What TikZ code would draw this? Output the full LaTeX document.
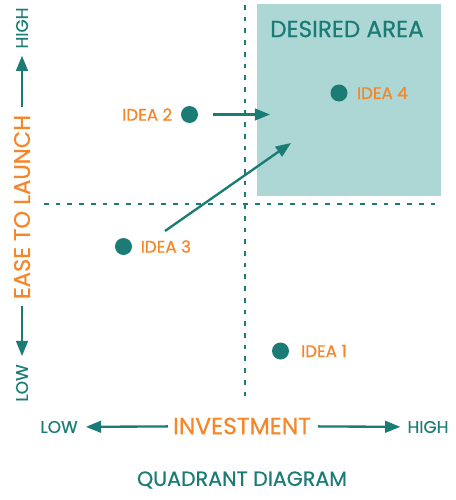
\documentclass[tikz,border=0pt]{standalone}
\usepackage{fontspec}
\setmainfont[FakeBold=0.6]{Poppins}
\usepackage{xcolor}
\usepackage{tikz}
\usetikzlibrary{calc,arrows,arrows.meta,positioning}
\definecolor{quadteal}{HTML}{1B7B75}
\definecolor{quadorange}{HTML}{F5862A}
\definecolor{quadfill}{HTML}{ACD7D5}
\tikzset{
  dot/.style = {circle, fill=quadteal, inner sep=0pt, minimum size=0.51cm},
  idea/.style = {text=quadorange, inner sep=0pt, font=\fontsize{14.3}{14.3}\selectfont},
  axisname/.style = {text=quadorange, inner sep=0pt, font=\fontsize{20}{20}\selectfont},
  scalelabel/.style = {text=quadteal, inner sep=0pt, font=\fontsize{14.5}{14.5}\selectfont},
  areatitle/.style = {text=quadteal, inner sep=0pt, font=\fontsize{19.8}{19.8}\selectfont},
  dotline/.style = {quadteal, line width=2.4pt, dash pattern=on 4pt off 6pt},
  pointer/.style = {quadteal, line width=2pt, -{Triangle[length=13pt, width=10pt]}},
}

\begin{document}
\begin{tikzpicture}[x=0.03cm, y=-0.03cm]
  \useasboundingbox (0,0) rectangle (456,500);

  \fill[quadfill] (257,4) rectangle (441,196);
  \node[areatitle] (desired) at (347,29) {DESIRED AREA};

  \draw[dotline] (44,204) -- (440,204);
  \draw[dotline] (245,5) -- (245,397);

  \node[dot] (idea1) at (280.5,351) {};
  \node[idea, right=0.35cm of idea1] (idea1 label) {IDEA 1};
  \node[dot] (idea2) at (189.5,114.5) {};
  \node[idea, left=0.25cm of idea2] (idea2 label) {IDEA 2};
  \node[dot] (idea3) at (123.5,246.5) {};
  \node[idea, right=0.25cm of idea3] (idea3 label) {IDEA 3};
  \node[dot] (idea4) at (339,93) {};
  \node[idea, right=0.27cm of idea4] (idea4 label) {IDEA 4};

  \coordinate (goal2) at (270,114.5);
  \coordinate (start3) at (165,231);
  \coordinate (goal3) at (291,143);
  \draw[pointer, shorten <=0.45cm] (idea2) -- (goal2);
  \draw[pointer] (start3) -- (goal3);

  \node[axisname] (invest) at (242,426) {INVESTMENT};
  \node[scalelabel] (low x) at (59,427) {LOW};
  \node[scalelabel] (high x) at (428,427) {HIGH};
  \draw[pointer, shorten <=0.15cm, shorten >=0.24cm] (invest) -- (low x);
  \draw[pointer, shorten <=0.21cm, shorten >=0.21cm] (invest) -- (high x);

  \node[axisname, rotate=90, font=\fontsize{19.4}{19.4}\selectfont] (ease) at (22,207) {EASE TO LAUNCH};
  \node[scalelabel, rotate=90] (high y) at (22,28) {HIGH};
  \node[scalelabel, rotate=90] (low y) at (22,383) {LOW};
  \draw[pointer, shorten <=0.24cm, shorten >=0.21cm] (ease) -- (high y);
  \draw[pointer, shorten <=0.21cm, shorten >=0.24cm] (ease) -- (low y);

  \node[scalelabel, font=\fontsize{17.6}{17.6}\selectfont] (title) at (242,480) {QUADRANT DIAGRAM};
\end{tikzpicture}
\end{document}
